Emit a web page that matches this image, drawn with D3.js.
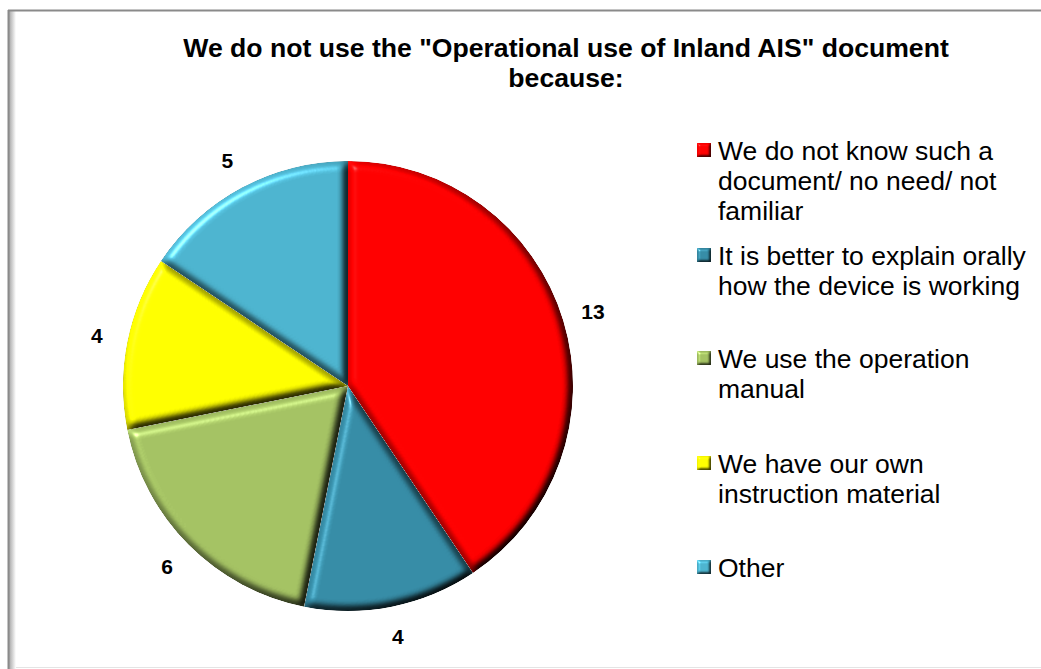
<!DOCTYPE html>
<html>
<head>
<meta charset="utf-8">
<script src="https://cdn.jsdelivr.net/npm/d3@7"></script>
<style>
  html, body { margin: 0; padding: 0; background: #fff; }
  svg { display: block; font-family: "Liberation Sans", Arial, sans-serif; }
</style>
</head>
<body>
<svg id="chart" width="1041" height="669"></svg>
<script>
// Survey answers: why the "Operational use of Inland AIS" document is not used
const categories = [
  ["We do not know such a", "document/ no need/ not", "familiar"],
  ["It is better to explain orally", "how the device is working"],
  ["We use the operation", "manual"],
  ["We have our own", "instruction material"],
  ["Other"]
];
const counts = [13, 4, 6, 4, 5];
const colors = ["#ff0000", "#368ca6", "#a4c263", "#ffff00", "#4db4cf"];
const titleLines = ['We do not use the "Operational use of Inland AIS" document', "because:"];

const svg = d3.select("#chart");
const W = 1041, H = 669;

const defs = svg.append("defs");

// soft shadow for the chart frame's left edge
const sh = defs.append("linearGradient").attr("id", "frameShade").attr("x1", 0).attr("x2", 1).attr("y1", 0).attr("y2", 0);
sh.append("stop").attr("offset", 0).attr("stop-color", "#9a9a9a");
sh.append("stop").attr("offset", 1).attr("stop-color", "#ffffff");

// bevel lighting for slices and legend keys
function bevel(id, blur, scale) {
  const f = defs.append("filter").attr("id", id)
    .attr("color-interpolation-filters", "sRGB")
    .attr("x", "-5%").attr("y", "-5%").attr("width", "110%").attr("height", "110%");
  f.append("feGaussianBlur").attr("in", "SourceAlpha").attr("stdDeviation", blur).attr("result", "b");
  const dl = f.append("feDiffuseLighting").attr("in", "b").attr("surfaceScale", scale)
    .attr("diffuseConstant", 1).attr("lighting-color", "#ffffff").attr("result", "diff");
  dl.append("feDistantLight").attr("azimuth", 225).attr("elevation", 60);
  // flat areas receive sin(60°) ≈ 0.866, scaled back to 1
  f.append("feComposite").attr("in", "SourceGraphic").attr("in2", "diff")
    .attr("operator", "arithmetic").attr("k1", 1.155).attr("k2", 0).attr("k3", 0).attr("k4", 0).attr("result", "lit");
  const sl = f.append("feSpecularLighting").attr("in", "b").attr("surfaceScale", scale)
    .attr("specularConstant", 0.7).attr("specularExponent", 30).attr("lighting-color", "#ffffff").attr("result", "spec");
  sl.append("feDistantLight").attr("azimuth", 225).attr("elevation", 30);
  f.append("feComposite").attr("in", "spec").attr("in2", "SourceAlpha").attr("operator", "in").attr("result", "specIn");
  f.append("feComposite").attr("in", "lit").attr("in2", "specIn")
    .attr("operator", "arithmetic").attr("k1", 0).attr("k2", 1).attr("k3", 0.5).attr("k4", 0).attr("result", "all");
  f.append("feComposite").attr("in", "all").attr("in2", "SourceAlpha").attr("operator", "in");
}
bevel("bevelPie", 4.5, 8);
bevel("bevelKey", 1.4, 2.5);

// chart frame
svg.append("rect").attr("x", 8).attr("y", 11).attr("width", 8).attr("height", H - 11).attr("fill", "url(#frameShade)");
svg.append("line").attr("x1", 8).attr("x2", W).attr("y1", 10.5).attr("y2", 10.5).attr("stroke", "#8a8a8a").attr("stroke-width", 2);
svg.append("line").attr("x1", 8.5).attr("x2", 8.5).attr("y1", 10).attr("y2", H).attr("stroke", "#8a8a8a").attr("stroke-width", 2);
svg.append("line").attr("x1", 16).attr("x2", W).attr("y1", 667.5).attr("y2", 667.5).attr("stroke", "#e4e4e4").attr("stroke-width", 1);

// title
svg.append("text")
  .attr("x", 566).attr("y", 57)
  .attr("text-anchor", "middle")
  .attr("font-size", 26.6).attr("font-weight", "bold").attr("fill", "#000")
  .selectAll("tspan").data(titleLines).join("tspan")
  .attr("x", 566).attr("dy", (d, i) => i ? 30 : 0)
  .text(d => d);

// pie
const cx = 348, cy = 386, R = 225;
const pie = d3.pie().sort(null).value(d => d)(counts);
const arc = d3.arc().innerRadius(0).outerRadius(R);
const labelArc = d3.arc().innerRadius(256).outerRadius(256);

const g = svg.append("g").attr("transform", `translate(${cx},${cy})`);
g.selectAll("path.slice").data(pie).join("path")
  .attr("class", "slice")
  .attr("d", arc)
  .attr("fill", (d, i) => colors[i])
  .attr("filter", "url(#bevelPie)");

g.selectAll("text.val").data(pie).join("text")
  .attr("class", "val")
  .attr("transform", d => `translate(${labelArc.centroid(d)})`)
  .attr("text-anchor", "middle").attr("dy", "0.35em")
  .attr("font-size", 21).attr("font-weight", "bold").attr("fill", "#000")
  .text(d => d.data);

// legend
const legendTop = [150, 255, 358, 463, 567];
const lg = svg.append("g");
const items = lg.selectAll("g.item").data(categories).join("g")
  .attr("class", "item")
  .attr("transform", (d, i) => `translate(697,${legendTop[i]})`);
items.append("rect")
  .attr("x", 0).attr("y", -7).attr("width", 14).attr("height", 14)
  .attr("fill", (d, i) => colors[i])
  .attr("filter", "url(#bevelKey)");
items.append("text")
  .attr("x", 21).attr("y", 0)
  .attr("font-size", 26.5).attr("fill", "#000")
  .selectAll("tspan").data(d => d).join("tspan")
  .attr("x", 21).attr("dy", (d, i) => i ? 30 : 9.5)
  .text(d => d);
</script>
</body>
</html>
